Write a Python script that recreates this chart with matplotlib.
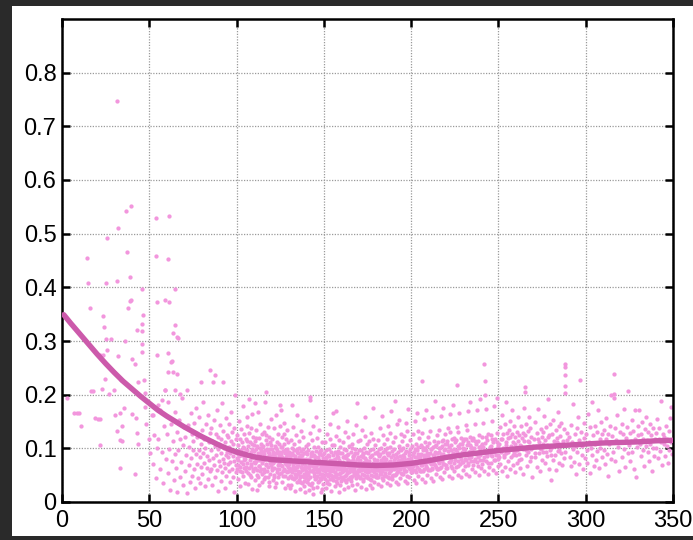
import matplotlib
matplotlib.use('Agg')
import matplotlib.pyplot as plt
from matplotlib.patches import Rectangle

plt.rcParams['font.family'] = ['Liberation Sans', 'DejaVu Sans']

# ---------------- data ----------------
x_ticks = [0, 50, 100, 150, 200, 250, 300, 350]
y_ticks = [0, 0.1, 0.2, 0.3, 0.4, 0.5, 0.6, 0.7, 0.8]
y_tick_labels = ["0", "0.1", "0.2", "0.3", "0.4", "0.5", "0.6", "0.7", "0.8"]

# fitted trend curve
curve_x = [1, 5, 10, 15, 20, 25, 30, 35, 40, 45, 50, 55, 60, 65, 70, 75, 80, 85, 90, 95,
           100, 110, 120, 130, 140, 150, 160, 170, 180, 190, 200, 210, 220, 230, 240, 250,
           260, 270, 280, 290, 300, 310, 320, 330, 340, 350]
curve_y = [.349, .333, .314, .295, .276, .258, .241, .225, .211, .197, .184, .171, .160, .150,
           .140, .131, .122, .114, .106, .099, .093, .084, .079, .077, .075, .073, .071, .069,
           .068, .069, .072, .077, .083, .088, .092, .096, .099, .102, .104, .106, .108, .110,
           .111, .112, .114, .115]

# sparse early points (x < 70)
pts_sparse = [
 (31.3,.747),(36.7,.543),(39.5,.551),(32.3,.51),(25.6,.491),(53.8,.53),(61.5,.532),
 (14.1,.454),(37.0,.465),(53.8,.458),(61.0,.452),
 (15.0,.408),(25.2,.409),(31.3,.411),(39.0,.42),(46.0,.397),(64.7,.396),
 (39.0,.374),(39.6,.376),(38.0,.361),(16.0,.361),(23.3,.347),(46.2,.348),(54.6,.372),(61.3,.372),
 (45.6,.332),(24.0,.327),(42.8,.321),(46.0,.318),(63.8,.314),(59.0,.376),(64.7,.329),(66.6,.305),
 (25.0,.303),(28.0,.303),(36.0,.3),(45.6,.295),(46.0,.28),(25.6,.283),(60.9,.277),(62.4,.261),
 (21.8,.273),(23.7,.273),(32.3,.272),(39.9,.267),(25.2,.258),(41.8,.258),(54.2,.273),(60.9,.242),
 (24.6,.23),(30.0,.242),(43.3,.224),(47.1,.227),(33.6,.227),(59.0,.208),(67.6,.202),(57.1,.19),
 (16.4,.207),(18.0,.207),(22.7,.211),(26.9,.201),(30.0,.208),(3.0,.193),(52.3,.162),
 (7.0,.166),(9.7,.166),(8.8,.166),(10.7,.141),(18.9,.157),(20.8,.155),(22.0,.154),(30.4,.162),
 (33.2,.165),(35.5,.176),(40.3,.164),(31.3,.133),(33.2,.115),(34.2,.141),(21.8,.106),(42.8,.128),
 (42.4,.156),(47.5,.203),(47.5,.177),(33.2,.063),(41.8,.053),(43.3,.109),(34.5,.114),
 (48.3,.145),(49.6,.118),(50.5,.092),(51.4,.162),(52.2,.071),(52.9,.124),(53.6,.045),(54.3,.101),
 (54.8,.181),(63.8,.242),(65.7,.307),(66.0,.239),(64.7,.208),
]

# rising density from 55 to 100
pts_55_100 = [
 (55.2,.118),(55.9,.062),(56.4,.171),(57.0,.094),(57.6,.035),(58.3,.142),(58.8,.208),(59.5,.081),
 (60.1,.126),(60.5,.054),(61.0,.187),(61.4,.098),(61.9,.022),(62.3,.145),(62.8,.076),(63.2,.262),
 (63.7,.113),(64.1,.041),(64.5,.168),(64.9,.089),
 (65.2,.064),(65.6,.131),(66.1,.018),(66.5,.097),(67.0,.152),(67.4,.047),(67.8,.118),(68.3,.075),
 (68.7,.193),(69.1,.031),(69.5,.106),(69.9,.139),
 (70.2,.058),(70.6,.121),(71.0,.087),(71.4,.016),(71.8,.208),(72.1,.143),(72.5,.069),(72.9,.102),
 (73.3,.037),(73.7,.165),(74.0,.082),(74.4,.127),(74.7,.049),(74.9,.096),
 (75.1,.113),(75.4,.061),(75.8,.148),(76.1,.027),(76.5,.089),(76.8,.176),(77.2,.071),(77.5,.122),
 (77.9,.044),(78.2,.097),(78.5,.158),(78.9,.083),(79.2,.035),(79.4,.224),(79.6,.109),(79.9,.066),
 (80.1,.134),(80.4,.052),(80.7,.091),(81.0,.187),(81.3,.073),(81.6,.118),(81.9,.029),(82.2,.101),
 (82.5,.146),(82.8,.064),(83.1,.085),(83.4,.162),(83.7,.043),(84.0,.112),(84.3,.078),(84.5,.128),
 (84.8,.246),(84.9,.057),
 (85.1,.096),(85.3,.138),(85.6,.061),(85.9,.114),(86.2,.032),(86.4,.082),(86.7,.224),(86.9,.152),
 (87.2,.069),(87.4,.105),(87.6,.236),(87.8,.047),(88.1,.127),(88.3,.088),(88.6,.171),(88.8,.059),
 (89.1,.099),(89.3,.021),(89.6,.121),(89.8,.076),
 (90.1,.108),(90.3,.067),(90.6,.143),(90.8,.039),(91.0,.092),(91.3,.118),(91.5,.055),(91.8,.184),
 (92.0,.081),(92.2,.132),(92.4,.224),(92.6,.073),(92.9,.101),(93.1,.026),(93.3,.112),(93.6,.064),
 (93.8,.156),(94.0,.087),(94.2,.049),(94.5,.124),(94.7,.094),(94.9,.071),
 (95.1,.083),(95.3,.121),(95.5,.058),(95.7,.102),(95.9,.146),(96.1,.037),(96.3,.091),(96.5,.074),
 (96.8,.168),(97.0,.113),(97.2,.062),(97.4,.097),(97.6,.131),(97.8,.046),(98.0,.085),(98.2,.109),
 (98.4,.019),(98.6,.138),(98.8,.077),(99.0,.199),(99.2,.094),(99.4,.056),(99.6,.117),(99.8,.069),
]

# dense cloud 100-130
pts_100_130 = [
 (100.1,.092),(100.3,.061),(100.5,.124),(100.7,.078),(100.9,.043),(101.1,.107),(101.3,.151),(101.5,.086),
 (101.7,.066),(101.9,.118),(102.1,.029),(102.3,.097),(102.5,.074),(102.7,.136),(102.9,.055),(103.1,.089),
 (103.3,.112),(103.5,.071),(103.7,.178),(103.9,.048),(104.1,.101),(104.3,.083),(104.5,.127),(104.7,.064),
 (104.9,.094),(104.6,.036),
 (105.1,.081),(105.3,.117),(105.5,.058),(105.7,.096),(105.9,.142),(106.1,.072),(106.3,.034),(106.5,.104),
 (106.7,.088),(106.9,.129),(107.1,.063),(107.3,.191),(107.5,.079),(107.7,.112),(107.9,.051),(108.1,.093),
 (108.3,.138),(108.5,.068),(108.7,.024),(108.9,.099),(109.1,.084),(109.3,.121),(109.5,.057),(109.7,.106),
 (109.9,.075),(106.0,.159),(108.0,.046),(109.0,.164),
 (110.1,.087),(110.3,.064),(110.5,.113),(110.7,.041),(110.9,.098),(111.1,.076),(111.3,.134),(111.5,.059),
 (111.7,.105),(111.9,.082),(112.1,.168),(112.3,.047),(112.5,.092),(112.7,.119),(112.9,.068),(113.1,.031),
 (113.3,.101),(113.5,.085),(113.7,.146),(113.9,.062),(114.1,.109),(114.3,.073),(114.5,.126),(114.7,.053),
 (114.9,.094),(110.6,.185),(111.8,.022),(112.8,.079),(113.8,.097),(114.4,.038),
 (115.1,.078),(115.3,.104),(115.5,.061),(115.7,.131),(115.9,.089),(116.1,.046),(116.3,.187),(116.5,.097),
 (116.7,.071),(116.9,.115),(117.1,.205),(117.3,.083),(117.5,.057),(117.7,.108),(117.9,.139),(118.1,.066),
 (118.3,.091),(118.5,.029),(118.7,.121),(118.9,.076),(119.1,.098),(119.3,.052),(119.5,.154),(119.7,.086),
 (119.9,.069),(115.6,.042),(116.6,.124),(117.8,.094),(118.8,.037),(119.4,.111),
 (120.1,.082),(120.3,.059),(120.5,.118),(120.7,.094),(120.9,.041),(121.1,.073),(121.3,.137),(121.5,.087),
 (121.7,.064),(121.9,.104),(122.1,.028),(122.3,.091),(122.5,.163),(122.7,.078),(122.9,.112),(123.1,.055),
 (123.3,.096),(123.5,.069),(123.7,.127),(123.9,.047),(124.1,.085),(124.3,.108),(124.5,.072),(124.7,.142),
 (124.9,.18),(120.4,.099),(121.2,.051),(122.0,.084),(122.8,.036),(123.6,.079),(124.2,.061),(124.8,.093),
 (125.1,.076),(125.3,.102),(125.5,.054),(125.7,.089),(125.9,.121),(126.1,.067),(126.3,.038),(126.5,.095),
 (126.7,.081),(126.9,.148),(127.1,.062),(127.3,.109),(127.5,.073),(127.7,.026),(127.9,.091),(128.1,.118),
 (128.3,.058),(128.5,.084),(128.7,.135),(128.9,.069),(129.1,.099),(129.3,.045),(129.5,.078),(129.7,.112),
 (129.9,.064),(125.4,.172),(126.0,.083),(126.8,.049),(127.6,.097),(128.4,.071),(129.0,.087),(129.6,.032),
 (127.2,.126),(128.8,.056),
]

# dense core 130-200
pts_130_200 = [
 (130.1,.071),(130.3,.094),(130.5,.048),(130.7,.083),(130.9,.116),(131.1,.062),(131.3,.031),(131.5,.077),
 (131.7,.101),(131.9,.055),(132.1,.088),(132.3,.139),(132.5,.067),(132.7,.042),(132.9,.079),(133.1,.108),
 (133.3,.059),(133.5,.021),(133.7,.086),(133.9,.072),(134.1,.124),(134.3,.051),(134.5,.093),(134.7,.065),
 (134.9,.037),(130.4,.061),(131.0,.089),(131.6,.044),(132.2,.073),(132.8,.097),(133.4,.052),(134.0,.081),
 (134.6,.163),(130.8,.026),(132.0,.181),(133.8,.046),
 (135.1,.069),(135.3,.092),(135.5,.041),(135.7,.078),(135.9,.113),(136.1,.056),(136.3,.024),(136.5,.084),
 (136.7,.066),(136.9,.132),(137.1,.049),(137.3,.087),(137.5,.071),(137.7,.035),(137.9,.098),(138.1,.061),
 (138.3,.152),(138.5,.076),(138.7,.053),(138.9,.091),(139.1,.018),(139.3,.068),(139.5,.105),(139.7,.044),
 (139.9,.081),(135.4,.058),(136.0,.101),(136.6,.037),(137.2,.063),(137.8,.121),(138.4,.029),(139.0,.074),
 (139.6,.057),(135.8,.083),(137.0,.095),(138.8,.047),
 (140.1,.066),(140.3,.089),(140.5,.038),(140.7,.074),(140.9,.108),(141.1,.052),(141.3,.022),(141.5,.081),
 (141.7,.063),(141.9,.128),(142.0,.196),(142.1,.19),(142.3,.047),(142.5,.085),(142.7,.069),(142.9,.031),
 (143.1,.094),(143.3,.058),(143.5,.142),(143.7,.073),(143.9,.015),(144.1,.088),(144.3,.061),(144.5,.102),
 (144.7,.043),(144.9,.077),(140.4,.055),(141.0,.097),(141.6,.034),(142.4,.071),(143.0,.116),(143.6,.026),
 (144.2,.049),(144.8,.083),(141.4,.068),(143.8,.059),
 (145.1,.072),(145.3,.095),(145.5,.044),(145.7,.067),(145.9,.119),(146.1,.056),(146.3,.028),(146.5,.084),
 (146.7,.061),(146.9,.103),(147.1,.039),(147.3,.078),(147.5,.134),(147.7,.053),(147.9,.089),(148.1,.019),
 (148.3,.069),(148.5,.097),(148.7,.047),(148.9,.075),(149.1,.112),(149.3,.059),(149.5,.033),(149.7,.082),
 (149.9,.064),(145.6,.158),(146.4,.037),(147.2,.091),(148.0,.062),(148.8,.024),(149.4,.071),(146.8,.076),
 (147.8,.045),(149.0,.087),
 (150.1,.068),(150.3,.091),(150.5,.042),(150.7,.076),(150.9,.111),(151.1,.053),(151.3,.026),(151.5,.082),
 (151.7,.065),(151.9,.127),(152.1,.048),(152.3,.087),(152.5,.059),(152.7,.034),(152.9,.099),(153.1,.071),
 (153.3,.145),(153.5,.057),(153.7,.079),(153.9,.021),(154.1,.093),(154.3,.062),(154.5,.106),(154.7,.045),
 (154.9,.074),(150.4,.058),(151.0,.084),(151.8,.039),(152.6,.073),(153.4,.118),(154.2,.051),(155.0,.165),
 (151.4,.097),(153.8,.066),
 (155.1,.064),(155.3,.088),(155.5,.041),(155.7,.072),(155.9,.107),(156.1,.055),(156.3,.029),(156.5,.081),
 (156.7,.067),(156.9,.123),(157.1,.046),(157.3,.084),(157.5,.061),(157.7,.036),(157.9,.095),(158.1,.073),
 (158.3,.139),(158.5,.052),(158.7,.078),(158.9,.018),(159.1,.091),(159.3,.063),(159.5,.103),(159.7,.047),
 (159.9,.071),(155.4,.057),(156.2,.094),(157.0,.039),(157.8,.068),(158.6,.115),(159.4,.054),(156.8,.17),
 (158.0,.083),(159.0,.032),
 (160.1,.067),(160.3,.092),(160.5,.043),(160.7,.075),(160.9,.112),(161.1,.057),(161.3,.024),(161.5,.083),
 (161.7,.064),(161.9,.131),(162.1,.049),(162.3,.086),(162.5,.059),(162.7,.037),(162.9,.097),(163.1,.072),
 (163.3,.151),(163.5,.054),(163.7,.079),(163.9,.028),(164.1,.089),(164.3,.066),(164.5,.104),(164.7,.046),
 (164.9,.073),(160.6,.061),(161.4,.099),(162.2,.041),(163.0,.069),(163.8,.121),(164.6,.056),(162.6,.082),
 (165.1,.069),(165.3,.094),(165.5,.045),(165.7,.077),(165.9,.109),(166.1,.058),(166.3,.031),(166.5,.085),
 (166.7,.063),(166.9,.126),(167.1,.051),(167.3,.088),(167.5,.061),(167.7,.022),(167.9,.099),(168.1,.074),
 (168.3,.143),(168.5,.056),(168.7,.081),(168.9,.034),(169.1,.092),(169.3,.067),(169.5,.113),(169.7,.048),
 (169.9,.076),(165.6,.039),(166.4,.101),(167.2,.072),(168.0,.053),(168.8,.185),(169.6,.059),(166.8,.083),
 (170.1,.071),(170.3,.096),(170.5,.047),(170.7,.079),(170.9,.116),(171.1,.059),(171.3,.028),(171.5,.086),
 (171.7,.064),(171.9,.134),(172.1,.052),(172.3,.089),(172.5,.062),(172.7,.039),(172.9,.101),(173.1,.075),
 (173.3,.158),(173.5,.057),(173.7,.082),(173.9,.024),(174.1,.093),(174.3,.068),(174.5,.109),(174.7,.049),
 (174.9,.077),(170.6,.061),(171.4,.097),(172.2,.043),(173.0,.07),(173.8,.123),(174.6,.055),(172.6,.084),
 (175.1,.068),(175.3,.092),(175.5,.044),(175.7,.076),(175.9,.113),(176.1,.057),(176.3,.032),(176.5,.083),
 (176.7,.065),(176.9,.129),(177.1,.05),(177.3,.087),(177.5,.06),(177.7,.027),(177.9,.098),(178.1,.073),
 (178.3,.176),(178.5,.055),(178.7,.08),(178.9,.038),(179.1,.091),(179.3,.066),(179.5,.106),(179.7,.047),
 (179.9,.074),(175.6,.058),(176.4,.096),(177.2,.041),(178.0,.118),(179.0,.062),
 (180.1,.07),(180.3,.094),(180.5,.046),(180.7,.078),(180.9,.115),(181.1,.059),(181.3,.034),(181.5,.085),
 (181.7,.067),(181.9,.138),(182.1,.052),(182.3,.089),(182.5,.062),(182.7,.029),(182.9,.1),(183.1,.075),
 (183.3,.161),(183.5,.057),(183.7,.082),(183.9,.041),(184.1,.093),(184.3,.068),(184.5,.108),(184.7,.049),
 (184.9,.076),(180.6,.06),(181.4,.098),(182.2,.072),(183.0,.053),(184.0,.124),
 (185.1,.072),(185.3,.097),(185.5,.049),(185.7,.08),(185.9,.118),(186.1,.061),(186.3,.036),(186.5,.087),
 (186.7,.069),(186.9,.141),(187.1,.054),(187.3,.091),(187.5,.064),(187.7,.031),(187.9,.102),(188.1,.077),
 (188.3,.17),(188.5,.059),(188.7,.084),(188.9,.043),(189.1,.095),(189.3,.07),(189.5,.111),(189.7,.051),
 (189.9,.078),(185.6,.062),(186.4,.1),(187.2,.045),(188.0,.129),(189.0,.066),
 (190.1,.074),(190.3,.099),(190.5,.051),(190.7,.082),(190.9,.121),(191.1,.063),(191.3,.038),(191.5,.089),
 (191.7,.071),(191.9,.145),(192.1,.056),(192.3,.093),(192.5,.066),(192.7,.033),(192.9,.104),(193.1,.079),
 (193.3,.152),(193.5,.061),(193.7,.086),(193.9,.045),(194.1,.097),(194.3,.072),(194.5,.114),(194.7,.053),
 (194.9,.08),(190.6,.188),(192.2,.077),(194.0,.127),
 (195.1,.076),(195.3,.101),(195.5,.053),(195.7,.084),(195.9,.123),(196.1,.065),(196.3,.04),(196.5,.091),
 (196.7,.073),(196.9,.147),(197.1,.058),(197.3,.095),(197.5,.068),(197.7,.035),(197.9,.106),(198.1,.081),
 (198.3,.173),(198.5,.063),(198.7,.088),(198.9,.047),(199.1,.099),(199.3,.074),(199.5,.116),(199.7,.055),
 (199.9,.082),(196.0,.059),(197.6,.132),(199.0,.069),
]

# cloud 200-250
pts_200_250 = [
 (200.2,.078),(200.4,.104),(200.6,.055),(200.8,.087),(201.0,.126),(201.2,.067),(201.4,.041),(201.6,.093),
 (201.8,.075),(202.0,.151),(202.2,.06),(202.4,.098),(202.6,.07),(202.8,.036),(203.0,.109),(203.2,.083),
 (203.4,.166),(203.6,.065),(203.8,.09),(204.0,.049),(204.2,.102),(204.4,.077),(204.6,.119),(204.8,.057),
 (205.0,.085),(203.9,.133),
 (205.2,.08),(205.4,.107),(205.6,.057),(205.8,.089),(206.0,.225),(206.1,.129),(206.3,.069),(206.5,.043),
 (206.7,.096),(206.9,.077),(207.1,.155),(207.3,.062),(207.5,.101),(207.7,.072),(207.9,.038),(208.1,.112),
 (208.3,.085),(208.5,.171),(208.7,.067),(208.9,.092),(209.1,.051),(209.3,.105),(209.5,.079),(209.7,.122),
 (209.9,.059),(207.6,.088),
 (210.2,.082),(210.4,.11),(210.6,.059),(210.8,.091),(211.0,.132),(211.2,.071),(211.4,.045),(211.6,.098),
 (211.8,.079),(212.0,.158),(212.2,.064),(212.4,.103),(212.6,.074),(212.8,.04),(213.0,.114),(213.2,.087),
 (213.4,.189),(213.6,.069),(213.8,.094),(214.0,.053),(214.2,.107),(214.4,.081),(214.6,.125),(214.8,.061),
 (215.2,.084),(215.4,.112),(215.6,.061),(215.8,.093),(216.0,.135),(216.2,.073),(216.4,.047),(216.6,.1),
 (216.8,.081),(217.0,.161),(217.2,.066),(217.4,.105),(217.6,.076),(217.8,.042),(218.0,.116),(218.2,.089),
 (218.4,.176),(218.6,.071),(218.8,.096),(219.0,.055),(219.2,.109),(219.4,.083),(219.6,.127),(219.8,.063),
 (220.2,.086),(220.5,.114),(220.7,.063),(220.9,.095),(221.2,.138),(221.4,.075),(221.6,.049),(221.9,.102),
 (222.1,.083),(222.4,.164),(222.6,.068),(222.8,.107),(223.1,.078),(223.3,.044),(223.6,.118),(223.8,.091),
 (224.0,.181),(224.3,.073),(224.5,.098),(224.7,.057),(224.9,.111),(222.0,.131),
 (225.2,.088),(225.5,.116),(225.7,.065),(225.9,.097),(226.2,.14),(226.4,.218),(226.6,.077),(226.9,.051),
 (227.1,.104),(227.4,.085),(227.6,.166),(227.8,.07),(228.1,.109),(228.3,.08),(228.6,.046),(228.8,.12),
 (229.0,.093),(229.3,.075),(229.5,.1),(229.7,.059),(229.9,.113),(227.0,.131),
 (230.2,.09),(230.5,.118),(230.7,.067),(230.9,.099),(231.2,.143),(231.4,.079),(231.6,.053),(231.9,.106),
 (232.1,.087),(232.4,.169),(232.6,.072),(232.8,.111),(233.1,.082),(233.3,.048),(233.6,.122),(233.8,.095),
 (234.0,.187),(234.3,.077),(234.5,.102),(234.7,.061),(234.9,.115),(232.0,.134),
 (235.2,.092),(235.5,.12),(235.7,.069),(236.0,.101),(236.3,.146),(236.5,.081),(236.8,.055),(237.1,.108),
 (237.3,.089),(237.6,.172),(237.9,.074),(238.1,.113),(238.4,.084),(238.7,.05),(238.9,.124),(239.2,.097),
 (239.4,.191),(239.6,.079),(239.8,.104),(239.9,.063),
 (240.2,.094),(240.5,.122),(240.7,.071),(241.0,.103),(241.3,.148),(241.5,.083),(241.8,.057),(242.0,.257),
 (242.1,.225),(242.2,.2),(242.3,.11),(242.6,.091),(242.9,.174),(243.1,.076),(243.4,.115),(243.7,.086),
 (243.9,.052),(244.2,.126),(244.5,.099),(244.8,.065),
 (245.2,.096),(245.5,.124),(245.7,.073),(246.0,.105),(246.3,.151),(246.5,.085),(246.8,.059),(247.1,.112),
 (247.3,.093),(247.6,.178),(247.9,.078),(248.1,.117),(248.4,.088),(248.7,.054),(248.9,.128),(249.2,.101),
 (249.4,.193),(249.6,.081),(249.8,.106),(249.9,.067),
]

# extra points filling the dense core band 100-290
pts_core_extra = [
 (100.4,.082),(101.0,.069),(101.6,.097),(102.2,.058),(102.8,.088),(103.4,.103),(104.0,.063),(104.4,.079),
 (105.0,.091),(105.6,.066),(106.2,.113),(106.8,.054),(107.4,.087),(108.2,.071),(108.8,.109),(109.4,.062),
 (110.0,.095),(110.4,.072),(111.0,.119),(111.6,.051),(112.0,.083),(112.6,.067),(113.2,.091),(113.6,.058),
 (114.2,.101),(114.8,.076),(115.2,.092),(115.8,.056),(116.4,.081),(117.0,.069),(117.6,.098),(118.2,.047),
 (118.6,.086),(119.2,.072),(119.8,.107),(120.2,.064),(120.8,.089),(121.4,.047),(122.0,.076),(122.6,.101),
 (123.2,.061),(123.8,.092),(124.4,.053),(125.0,.084),(125.6,.069),(126.2,.103),(126.6,.058),(127.4,.081),
 (128.0,.049),(128.6,.094),(129.2,.066),(129.8,.088),
 (130.2,.058),(130.6,.077),(131.2,.049),(131.8,.091),(132.4,.062),(133.0,.045),(133.6,.078),(134.2,.066),
 (134.8,.099),(135.2,.052),(135.6,.074),(136.2,.047),(136.8,.088),(137.4,.059),(138.0,.081),(138.6,.039),
 (139.2,.064),(139.8,.093),(140.2,.051),(140.8,.079),(141.2,.043),(141.8,.072),(142.2,.058),(142.8,.091),
 (143.2,.036),(143.8,.068),(144.4,.054),(145.0,.083),(145.4,.061),(146.0,.049),(146.6,.071),(147.0,.057),
 (147.6,.095),(148.2,.042),(148.6,.066),(149.2,.053),(149.8,.077),(150.2,.048),(150.8,.062),(151.2,.071),
 (151.6,.036),(152.4,.064),(152.8,.052),(153.2,.085),(153.6,.043),(154.4,.068),(154.8,.059),(155.2,.079),
 (155.8,.049),(156.4,.066),(157.2,.053),(157.6,.089),(158.2,.044),(158.8,.061),(159.2,.075),(159.8,.039),
 (160.2,.056),(160.8,.083),(161.2,.047),(161.8,.069),(162.4,.062),(162.8,.051),(163.4,.088),(164.0,.043),
 (164.4,.071),(164.8,.059),(165.4,.064),(166.0,.049),(166.6,.078),(167.0,.056),(167.6,.091),(168.2,.045),
 (168.6,.067),(169.2,.052),(169.8,.083),(170.2,.058),(170.8,.044),(171.2,.073),(171.8,.061),(172.4,.092),
 (172.8,.051),(173.4,.066),(174.0,.047),(174.4,.079),(174.8,.062),(175.4,.055),(176.0,.071),(176.6,.043),
 (177.0,.086),(177.6,.059),(178.2,.049),(178.6,.068),(179.2,.077),(179.6,.052),(180.2,.063),(180.8,.089),
 (181.2,.046),(181.8,.071),(182.4,.057),(182.8,.079),(183.4,.044),(184.2,.061),(184.6,.083),(185.2,.054),
 (185.8,.068),(186.2,.091),(186.8,.047),(187.4,.074),(187.8,.058),(188.4,.066),(189.2,.049),(189.8,.087),
 (190.2,.061),(190.8,.073),(191.4,.052),(192.0,.084),(192.6,.057),(193.2,.069),(193.8,.098),(194.2,.054),
 (194.8,.066),(195.4,.088),(196.2,.057),(196.8,.079),(197.4,.049),(198.0,.071),(198.6,.093),(199.2,.061),
 (199.8,.068),
 (200.3,.062),(200.9,.091),(201.5,.071),(202.1,.084),(202.7,.055),(203.3,.097),(203.7,.074),(204.3,.061),
 (204.9,.088),(205.5,.069),(206.2,.102),(206.8,.058),(207.4,.083),(208.0,.072),(208.6,.096),(209.2,.063),
 (209.8,.088),(210.5,.074),(211.1,.099),(211.7,.062),(212.3,.087),(212.9,.071),(213.5,.104),(214.1,.066),
 (214.7,.091),(215.3,.077),(215.9,.101),(216.5,.064),(217.1,.089),(217.7,.113),(218.3,.071),(218.9,.084),
 (219.5,.098),(220.1,.069),(220.8,.108),(221.5,.087),(222.2,.074),(222.9,.097),(223.5,.064),(224.2,.089),
 (224.8,.119),(225.4,.078),(226.1,.093),(226.8,.068),(227.5,.101),(228.2,.086),(228.9,.109),(229.6,.074),
 (230.3,.096),(231.0,.081),(231.7,.118),(232.3,.069),(233.0,.093),(233.7,.106),(234.4,.084),(235.1,.098),
 (235.8,.076),(236.6,.114),(237.4,.091),(238.2,.067),(239.0,.103),(239.7,.087),(240.4,.109),(241.1,.078),
 (241.9,.096),(242.7,.121),(243.5,.089),(244.3,.072),(245.0,.102),(245.8,.087),(246.6,.118),(247.4,.079),
 (248.2,.097),(249.0,.112),(249.7,.088),
 (250.6,.099),(251.9,.117),(253.0,.084),(254.3,.106),(255.6,.093),(256.9,.121),(258.1,.088),(259.3,.109),
 (260.6,.097),(261.9,.079),(263.1,.104),(264.3,.128),(265.8,.096),(267.0,.113),(268.4,.084),(269.7,.104),
 (271.0,.091),(272.5,.117),(274.0,.101),(275.5,.109),(277.0,.094),(278.6,.121),(280.2,.087),(281.8,.104),
 (283.3,.112),(284.7,.097),(286.3,.108),(287.9,.093),(289.3,.116),
]

# sparser tail 250-350
pts_250_350 = [
 (250.2,.108),(250.5,.083),(250.8,.139),(251.1,.071),(251.4,.117),(251.7,.094),(252.0,.162),(252.3,.058),
 (252.6,.126),(252.9,.101),(253.2,.087),(253.5,.145),(253.8,.066),(254.1,.112),(254.4,.186),(254.6,.092),
 (254.8,.128),(254.9,.049),
 (255.2,.119),(255.5,.076),(255.8,.134),(256.1,.098),(256.4,.061),(256.7,.151),(257.0,.105),(257.3,.084),
 (257.6,.127),(257.9,.172),(258.2,.069),(258.5,.111),(258.8,.093),(259.1,.142),(259.4,.055),(259.6,.121),
 (259.8,.088),(259.9,.103),
 (260.2,.096),(260.5,.131),(260.8,.072),(261.1,.114),(261.4,.158),(261.7,.089),(262.0,.124),(262.3,.063),
 (262.6,.106),(262.9,.141),(263.2,.081),(263.5,.119),(263.8,.052),(264.1,.098),(264.4,.176),(264.7,.113),
 (265.0,.215),(265.1,.205),(265.3,.124),(265.6,.087),(265.9,.146),(266.2,.103),(266.5,.068),(266.8,.132),
 (267.1,.094),(267.4,.159),(267.7,.111),(268.0,.077),(268.3,.138),(268.6,.099),(268.9,.121),(269.4,.046),
 (270.3,.117),(270.7,.083),(271.1,.149),(271.5,.104),(271.9,.066),(272.3,.128),(272.7,.173),(273.1,.091),
 (273.5,.112),(273.9,.057),(274.2,.136),(274.5,.098),(274.8,.121),(274.9,.079),
 (275.3,.131),(275.7,.094),(276.1,.161),(276.5,.073),(276.9,.115),(277.3,.139),(277.7,.086),(278.1,.107),
 (278.5,.192),(278.9,.062),(279.2,.124),(279.5,.097),(279.8,.145),(279.9,.041),
 (280.3,.101),(280.7,.127),(281.1,.078),(281.5,.152),(281.9,.113),(282.3,.088),(282.7,.134),(283.1,.059),
 (283.5,.119),(283.9,.168),(284.2,.095),(284.5,.108),(284.8,.072),(284.9,.141),
 (285.3,.123),(285.7,.091),(286.1,.147),(286.5,.069),(286.9,.114),(287.3,.136),(287.7,.082),(288.0,.258),
 (288.1,.251),(288.2,.236),(288.3,.216),(288.4,.204),(288.8,.106),(289.5,.129),
 (290.4,.121),(290.9,.084),(291.3,.143),(291.8,.067),(292.2,.112),(292.6,.098),(293.0,.182),(293.5,.075),
 (293.9,.126),(294.3,.052),(294.6,.105),(294.9,.137),
 (295.2,.093),(295.6,.158),(296.0,.116),(296.4,.071),(296.8,.227),(297.2,.131),(297.6,.088),(298.0,.104),
 (298.5,.061),(298.9,.147),(299.3,.119),(299.7,.082),
 (300.2,.127),(300.6,.096),(301.0,.073),(301.4,.164),(301.8,.112),(302.2,.139),(302.6,.054),(303.0,.101),
 (303.4,.186),(303.8,.087),(304.3,.124),(304.7,.068),
 (305.1,.109),(305.5,.142),(305.9,.079),(306.3,.131),(306.7,.095),(307.1,.172),(307.5,.063),(307.9,.118),
 (308.3,.101),(308.8,.149),(309.2,.084),(309.6,.126),
 (310.2,.097),(310.6,.135),(311.0,.071),(311.4,.118),(311.8,.156),(312.2,.089),(312.6,.127),(313.0,.049),
 (313.4,.109),(313.8,.141),(314.3,.081),(314.7,.199),
 (315.2,.123),(315.6,.094),(316.0,.238),(316.1,.201),(316.2,.194),(316.6,.138),(317.0,.076),(317.4,.115),
 (317.8,.162),(318.3,.102),(318.8,.058),(319.4,.131),
 (320.2,.111),(320.6,.146),(321.0,.083),(321.4,.127),(321.8,.098),(322.2,.174),(322.7,.066),(323.1,.119),
 (323.6,.139),(324.0,.091),(324.4,.207),(324.8,.107),
 (325.2,.128),(325.6,.076),(326.0,.113),(326.4,.152),(326.8,.094),(327.2,.133),(327.6,.061),(328.0,.118),
 (328.5,.171),(328.9,.047),(329.3,.102),(329.7,.124),
 (330.2,.142),(330.6,.171),(331.0,.109),(331.4,.086),(331.8,.127),(332.2,.149),(332.6,.097),(333.0,.118),
 (333.4,.068),(333.9,.136),(334.3,.104),(334.7,.158),
 (335.1,.116),(335.5,.093),(335.9,.131),(336.3,.077),(336.7,.145),(337.1,.109),(337.5,.124),(337.9,.058),
 (338.3,.101),(338.8,.137),(339.2,.086),(339.6,.118),
 (340.1,.129),(340.5,.101),(340.9,.154),(341.3,.082),(341.7,.118),(342.1,.137),(342.5,.095),(342.9,.189),
 (343.4,.112),(343.8,.069),(344.2,.126),(344.7,.108),
 (345.1,.121),(345.5,.086),(345.9,.141),(346.3,.104),(346.7,.117),(347.1,.072),(347.5,.132),(347.9,.097),
 (348.3,.156),(348.7,.111),(349.0,.177),(349.4,.089),
]

all_pts = (pts_sparse + pts_55_100 + pts_100_130 + pts_130_200 + pts_200_250
           + pts_core_extra + pts_250_350)
scatter_x = [p[0] for p in all_pts]
scatter_y = [p[1] for p in all_pts]

# ---------------- figure ----------------
W, H = 693, 540
fig = plt.figure(figsize=(W / 100, H / 100), dpi=100, facecolor='#2a2a2a')
bg = Rectangle((12 / W, 4 / H), 1 - 12 / W, (534 - 4) / H,
               transform=fig.transFigure, facecolor='white',
               edgecolor='none', zorder=-10)
fig.patches.append(bg)

ax = fig.add_axes([62 / W, 38 / H, 611 / W, 483 / H])
ax.set_zorder(1)
ax.set_facecolor('white')
ax.set_axisbelow(True)
ax.grid(True, color='#9a9a9a', linestyle=(0, (1, 1.2)), linewidth=0.9)

ax.scatter(scatter_x, scatter_y, s=9.5, marker='o', color='#f296dd',
           linewidths=0, zorder=2)
ax.plot(curve_x, curve_y, color='#cc5aab', linewidth=3.9,
        solid_capstyle='round', zorder=3)

ax.set_xlim(0, 350)
ax.set_ylim(0, 0.9)
ax.set_xticks(x_ticks)
ax.set_xticklabels([str(v) for v in x_ticks])
ax.set_yticks(y_ticks)
ax.set_yticklabels(y_tick_labels)

ax.tick_params(direction='in', length=6, width=1.8, top=True, right=True,
               labelsize=17, colors='black')
ax.tick_params(axis='x', pad=6)
ax.tick_params(axis='y', pad=4)
for s in ax.spines.values():
    s.set_linewidth(1.8)
    s.set_color('black')

fig.savefig('out.png', dpi=100, facecolor=fig.get_facecolor())
